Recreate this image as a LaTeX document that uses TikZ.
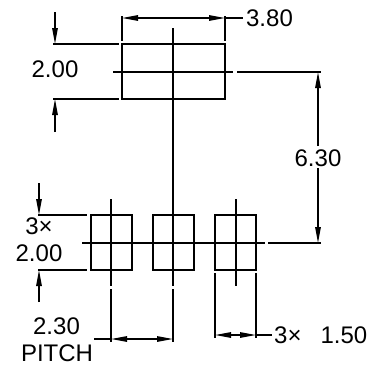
\documentclass[tikz,border=0pt]{standalone}
\usepackage{fontspec}
\setmainfont{Liberation Sans}
\usetikzlibrary{arrows.meta}
\tikzset{
    padline/.style={line width=1.4pt},
    dimline/.style={line width=1.3pt},
    dimtip/.style={-{Triangle[length=16pt,width=5.5pt]}},
    dimboth/.style={{Triangle[length=16pt,width=5.5pt]}-{Triangle[length=16pt,width=5.5pt]}},
    dimtext/.style={inner sep=0pt, font=\fontsize{24}{25}\selectfont}
}
\begin{document}
\begin{tikzpicture}[x=1pt, y=-1pt]
    \useasboundingbox (0,0) rectangle (372,365);

    % Upper pad
    \draw[padline] (122,44) rectangle (225,99);
    \draw[dimline] (173,28) -- (173,286);
    \draw[dimline] (113,72) -- (233,72);
    \draw[dimline] (237,72) -- (321,72);

    % Lower pads
    \foreach \padx in {91,153,215} {
        \draw[padline] (\padx,215) rectangle (\padx+41,270);
    }
    \foreach \padx in {111,236} {
        \draw[dimline] (\padx,199) -- (\padx,286);
    }
    \draw[dimline] (82,243) -- (265,243);
    \draw[dimline] (268,243) -- (321,243);

    % Width of upper pad
    \draw[dimline] (122,16) -- (122,41);
    \draw[dimline] (225,16) -- (225,41);
    \draw[dimline, dimboth] (122,18) -- (225,18);
    \draw[dimline] (225,18) -- (243,18);
    \node[dimtext] (widthlabel) at (269.5,18.5) {3.80};

    % Height of upper pad
    \draw[dimline] (53,44) -- (119,44);
    \draw[dimline] (53,99) -- (119,99);
    \draw[dimline, dimtip] (55,12) -- (55,44);
    \draw[dimline, dimtip] (55,132) -- (55,99);
    \node[dimtext] (heightlabel) at (55,69) {2.00};

    % Distance between pads
    \draw[dimline, dimtip] (318,146) -- (318,72);
    \draw[dimline, dimtip] (318,168) -- (318,243);
    \node[dimtext] (gaplabel) at (318,158) {6.30};

    % Height of lower pads
    \draw[dimline] (38,215) -- (87,215);
    \draw[dimline] (38,270) -- (87,270);
    \draw[dimline, dimtip] (39,183) -- (39,215);
    \draw[dimline, dimtip] (39,302) -- (39,270);
    \node[dimtext] (countlabel) at (39,226) {3×};
    \node[dimtext] (padlabel) at (39,253) {2.00};

    % Pitch
    \draw[dimline] (111,289) -- (111,342);
    \draw[dimline] (173,289) -- (173,342);
    \draw[dimline, dimboth] (111,339) -- (173,339);
    \draw[dimline] (94,339) -- (111,339);
    \node[dimtext] (pitchvalue) at (56.5,326) {2.30};
    \node[dimtext] (pitchlabel) at (57,353) {PITCH};

    % Width of lower pads
    \draw[dimline] (215,273) -- (215,338);
    \draw[dimline] (256,273) -- (256,338);
    \draw[dimline, dimboth] (215,335) -- (256,335);
    \draw[dimline] (256,335) -- (272,335);
    \node[dimtext, anchor=west] (lowerwidth) at (274,335) {3×\hspace{19pt}1.50};
\end{tikzpicture}
\end{document}
